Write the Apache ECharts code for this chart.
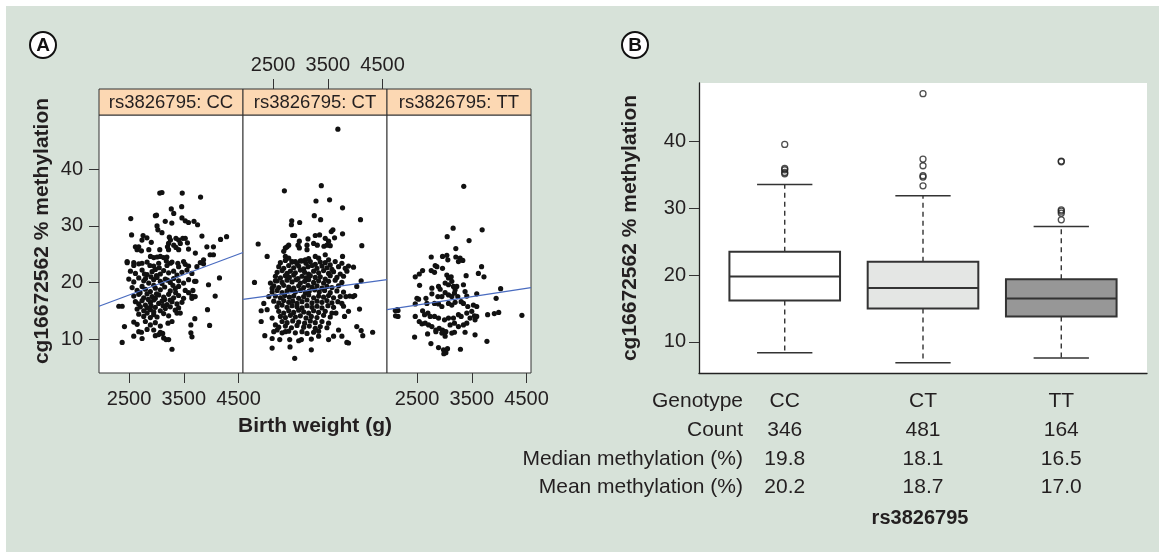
<!DOCTYPE html>
<html><head><meta charset="utf-8">
<script src="https://cdn.jsdelivr.net/npm/echarts@6/dist/echarts.min.js"></script>
<style>
html,body{margin:0;padding:0;background:#fff}
#wrap{position:relative;width:1159px;height:552px;background:#fff;overflow:hidden}
#bg{position:absolute;left:6px;top:6px;right:0;bottom:0;background:#d7e2d9}
#c{position:absolute;left:0;top:0;width:1159px;height:552px}
</style>
</head><body><div id="wrap"><div id="bg"></div><div id="c"></div></div>
<script>
// ---------------- DATA ----------------
const facetLabels = ['rs3826795: CC', 'rs3826795: CT', 'rs3826795: TT'];
const bwTicks = [2500, 3500, 4500];
const methTicks = [10, 20, 30, 40];

// Panel A: birth weight (g), methylation (%)
const ccPts = [
[3060,35.8],[3100,35.9],[3470,35.8],[3805,35.1],[3460,33.4],[3270,33.0],[3315,32.2],[2530,31.3],[2980,31.8],[3000,31.9],[3160,30.8],[3280,30.5],[3465,31.4],[3525,30.9],[3585,30.6],[3685,30.8],[3750,30.2],[3010,30.0],[3025,29.3],[3100,28.8],[2545,28.4],[2755,28.3],[2735,27.5],[2825,27.9],[2905,27.1],[3235,28.0],[3255,27.5],[3220,26.9],[3200,26.3],[3355,27.8],[3405,27.5],[3480,27.8],[3525,27.8],[3315,26.6],[3355,26.2],[3435,26.9],[3565,27.0],[3830,28.2],[3920,26.3],[4040,26.3],[4170,27.6],[4280,28.1],[2615,26.3],[2645,25.8],[2725,25.6],[2675,26.3],[2860,25.8],[3060,25.8],[3220,25.8],[3405,25.8],[3585,25.9],[3710,25.2],[2890,24.6],[2950,24.4],[3010,24.5],[3070,24.6],[3130,24.4],[3190,24.5],[2465,23.5],[2585,23.5],[2735,23.4],[3255,23.4],[3390,23.4],[3495,23.7],[3860,24.0],[3980,24.9],[4040,24.9],
[2464,23.7],[2585,23.0],[2676,23.3],[2828,23.6],[2949,22.9],[3040,23.4],[3192,23.0],[3283,23.6],[3404,22.8],[3525,23.2],[3586,22.9],[3738,22.8],[3859,23.3],
[2524,22.0],[2615,21.6],[2737,22.2],[2828,21.4],[2919,21.9],[2979,22.3],[3070,21.5],[3131,22.1],[3222,21.7],[3313,22.0],[3374,21.3],[3465,21.8],[3556,22.2],[3647,21.6],
[2494,20.6],[2585,20.1],[2676,20.8],[2767,20.3],[2858,19.9],[2949,20.5],[3010,20.9],[3070,20.2],[3161,20.6],[3252,20.0],[3313,20.7],[3404,20.3],[3495,19.9],[3586,20.5],[3695,20.2],
[2555,19.1],[2646,18.6],[2737,19.3],[2797,18.8],[2888,18.4],[2979,19.0],[3070,18.7],[3149,19.2],[3252,18.5],[3343,18.9],[3404,19.3],[3525,18.6],[3586,18.2],
[2585,17.6],[2676,17.9],[2767,17.3],[2828,18.0],[2919,17.5],[2979,17.2],[3040,17.8],[3131,17.4],[3222,17.9],[3313,17.3],[3404,17.7],[3495,17.2],[3647,17.6],
[2615,16.6],[2676,16.2],[2737,16.8],[2797,16.0],[2888,16.5],[2949,16.9],[3040,16.3],[3101,16.7],[3192,16.1],[3283,16.6],[3374,16.2],[3465,16.5],
[2312,15.8],[2373,15.8],[2646,15.3],[2706,15.7],[2767,15.0],[2828,15.5],[2888,15.2],[2979,15.6],[3070,15.0],[3161,15.4],[3252,15.7],[3343,15.1],[3404,15.5],
[2676,14.4],[2767,14.0],[2828,14.6],[2888,13.8],[2949,14.3],[3010,13.9],[3131,14.5],[3222,14.1],[3374,14.6],[3434,14.6],
[2415,12.2],[2585,13.0],[2646,12.6],[2797,13.1],[2888,12.5],[2979,12.9],[3070,12.3],[3210,12.8],[3283,13.1],
[2676,11.3],[2725,11.2],[2828,11.7],[2949,11.6],[3070,11.2],[3113,11.0],
[2585,10.5],[2737,10.1],[2979,10.6],[3040,10.8],[3131,10.2],[3174,9.9],[3222,9.9],[2373,9.4],[3283,8.2],
[2900,21.0],[2950,19.5],[3000,18.0],[3100,19.8],[3200,20.4],[3150,17.0],[2850,17.0],[2900,15.9],[3000,21.2],[3050,22.6],[2800,20.7],[2700,18.2],[3250,16.9],[3350,18.2],[2950,14.8],[3120,15.9],[2780,21.5],[3300,19.5],[2880,23.0],[3180,23.8],
[3950,19.6],[4150,20.8],[4072,17.6],[3932,15.2],[3970,12.4],[3700,13.6],[3628,12.5],[3628,11.1],[3648,10.4],[3800,23.5],[3647,17.2],[3707,17.5],[3665,18.6],[3720,20.2]
];
const ctPts = [
[3683,47.1],[3380,37.1],[2706,36.2],[3283,34.4],[3531,34.6],[3768,33.2],[3252,31.8],[3368,31.1],[2840,30.9],[2834,30.2],[2985,30.6],[3562,29.0],[3592,29.3],[3768,28.6],[2227,26.8],[2858,28.3],[2894,28.3],[2979,27.3],[3137,27.7],[3270,28.3],[3349,28.4],[3452,27.8],[3513,27.3],[3622,27.9],[2785,26.6],[2724,26.1],[2694,25.5],[2755,26.3],[2955,26.6],[2979,26.1],[3119,26.6],[3119,25.8],[3240,26.9],[3307,26.6],[3428,26.4],[3483,26.6],[3543,26.5],[2391,24.6],[3768,24.6],[2724,24.6],[2785,24.3],[2846,23.7],[2906,23.7],[2997,23.8],[3088,24.0],[3149,24.2],[3270,24.6],[3331,24.3],[3452,24.9],[3513,24.0],
[4096,31.1],[4120,26.5],[3877,22.9],[3968,22.7],[4108,20.3],[4028,19.3],[3900,17.6],[3960,17.5],[3990,17.7],[3877,14.9],[4078,15.3],[4028,12.2],[4108,11.5],[4137,10.6],[4318,11.2],[3877,9.3],
[2160,20.0],[2330,16.3],[2282,15.0],[2282,13.1],[2348,10.6],[2482,8.4],[2482,10.1],[2621,9.9],[2803,9.9],[2809,8.6],[2967,9.7],[3016,9.9],[2894,6.6],[3198,10.0],[3198,8.1],[3331,10.5],[3513,9.9],[3604,10.5],[3756,10.5],[3847,9.4],[3695,11.6],[3804,14.0],[3647,14.6],[3756,16.3],[3829,17.5],[2421,17.5],[2482,19.0],[2451,19.9],[2542,20.3],[2391,15.2],[2482,13.7],[2542,12.5],[2573,11.6],[2512,11.3],[2664,11.1],[2724,11.3],
[2633,23.5],[2724,23.9],[2846,23.6],[2937,23.3],[3028,23.8],[3101,23.4],[3179,23.7],[3270,23.2],[3361,23.6],[3452,23.5],[3543,23.1],[3634,23.7],[3756,23.4],
[2603,22.8],[2694,22.5],[2785,23.0],[2876,22.6],[2967,22.9],[3058,22.4],[3137,22.8],[3210,23.0],[3301,22.5],[3392,22.9],[3483,22.6],[3574,22.3],[3695,22.8],[3816,22.5],
[2573,21.8],[2664,22.1],[2755,21.6],[2815,22.0],[2906,21.7],[2997,22.2],[3076,21.8],[3149,21.5],[3240,22.0],[3331,21.7],[3422,22.1],[3513,21.6],[3604,21.9],[3726,21.5],[3847,22.0],
[2542,21.1],[2633,20.8],[2724,21.2],[2797,20.9],[2876,21.3],[2955,20.7],[3028,21.1],[3101,20.8],[3179,21.2],[3270,20.9],[3361,21.0],[3452,20.6],[3543,21.2],[3665,20.9],[3786,21.1],
[2573,20.3],[2664,20.0],[2755,20.4],[2846,20.1],[2919,20.5],[2997,19.9],[3076,20.2],[3149,20.5],[3240,20.0],[3331,20.3],[3422,19.9],[3513,20.2],[3634,20.4],[3756,20.0],
[2512,19.4],[2603,19.1],[2694,19.5],[2785,19.2],[2876,19.0],[2967,19.4],[3058,19.1],[3137,19.5],[3210,19.2],[3301,19.4],[3392,19.0],[3483,19.3],[3574,19.1],[3695,19.4],
[2482,18.3],[2573,18.6],[2664,18.2],[2755,18.5],[2834,18.7],[2906,18.3],[2997,18.6],[3088,18.2],[3161,18.5],[3258,18.7],[3343,18.3],[3440,18.6],[3543,18.2],[3665,18.5],[3786,18.3],
[2542,17.6],[2633,17.3],[2712,17.7],[2797,17.4],[2876,17.6],[2967,17.2],[3058,17.5],[3149,17.8],[3240,17.3],[3331,17.6],[3422,17.4],[3513,17.7],[3604,17.3],[3726,17.5],
[2512,16.7],[2603,16.4],[2694,16.8],[2785,16.5],[2858,16.7],[2937,16.3],[3028,16.6],[3119,16.9],[3210,16.4],[3301,16.7],[3392,16.5],[3483,16.8],[3574,16.4],[3683,16.6],
[2573,15.7],[2664,16.0],[2755,15.6],[2846,15.9],[2937,15.7],[3028,15.5],[3119,15.9],[3210,15.6],[3301,15.8],[3392,15.5],[3501,15.9],[3604,15.6],[3786,15.8],
[2603,14.9],[2694,14.6],[2785,15.0],[2876,14.7],[2967,15.1],[3058,14.8],[3149,14.6],[3240,15.0],[3331,14.7],[3452,14.9],[3574,14.6],
[2633,14.0],[2724,13.8],[2815,14.2],[2906,13.9],[2997,14.1],[3101,13.7],[3198,14.0],[3301,13.8],[3422,14.2],[3543,13.9],
[2664,13.1],[2755,12.9],[2858,13.2],[2967,13.0],[3076,12.8],[3179,13.2],[3270,12.9],[3392,13.1],[3513,12.8],
[2603,12.1],[2724,12.3],[2834,12.0],[2937,12.4],[3058,12.1],[3161,12.3],[3270,11.9],[3361,12.2],[3483,12.0],
[2785,11.4],[2906,11.1],[3028,11.3],[3119,11.0],[3240,11.2],[3331,11.4]
];
const ttPts = [
[3352,37.0],[3158,29.6],[3449,27.4],[3049,28.1],[3207,26.0],[2758,24.5],[2964,24.6],[3043,24.8],[3061,24.0],[3207,24.5],[3285,24.3],[3334,23.9],[3255,23.7],[2830,23.0],[3619,21.6],[2466,21.0],[2540,21.5],[2600,22.1],[2758,22.1],[2818,21.8],[2861,22.8],[2964,22.5],[3043,21.3],[3073,20.8],[3122,21.0],[3395,21.2],[2545,19.5],
[2770,19.0],[2891,19.3],[2921,18.8],[3012,19.9],[3073,19.6],[3134,20.2],[3164,19.3],[3194,18.7],[3225,19.3],
[2497,17.2],[2527,17.05],[2661,17.2],[2770,18.0],[2879,17.5],[2952,17.5],[3012,18.2],[3073,17.8],[3134,17.5],[3182,18.1],[3243,17.5],[3346,19.6],[3376,18.4],[3407,17.6],[3589,18.0],
[2466,16.2],[2151,15.05],[2102,15.05],[2679,16.3],[2818,16.3],[2891,16.2],[2952,15.75],[3073,16.3],[3134,16.0],[3194,16.5],[3304,16.6],[3346,16.3],[3425,15.75],[3528,16.0],[3589,15.75],
[2600,15.0],[2697,14.6],[2636,14.3],[2739,14.0],[2818,14.0],[2891,13.7],[3000,13.4],[3073,13.7],[3164,13.7],[3255,14.3],[3304,14.0],[3407,14.6],[3498,14.9],[3546,14.1],[2151,14.0],
[2466,14.0],[2539,13.1],[2588,12.7],[2648,12.8],[2709,12.5],[2770,12.2],[2843,11.6],[2903,11.9],[2964,11.6],[3025,11.3],[3103,12.5],[3182,12.8],[3255,12.2],[3346,12.5],[3407,12.8],[3467,13.7],[3558,13.4],[3589,14.0],
[2454,10.35],[2691,10.9],[2843,11.3],[2952,11.05],[3012,10.5],[3134,11.05],[3182,11.2],[3376,11.2],[3558,10.75],
[2752,9.2],[2891,8.5],[2982,8.1],[3025,7.6],[2988,7.4],[3055,8.3],[3291,8.2],
[3688,29.3],[3677,22.8],[3721,21.0],[4025,18.9],[3943,17.2],[3990,14.7],[3910,14.5],[3788,14.3],[4414,14.2],[3775,9.6],[2139,15.2],[2106,14.1]
];
// fitted lines: [birth weight, methylation] at the panel edges
const trendCC = [[1950, 15.8], [4580, 25.3]];
const trendCT = [[1950, 17.0], [4580, 20.5]];
const trendTT = [[1950, 15.2], [4580, 19.1]];

// Panel B: box plot statistics
const genotypes = ['CC', 'CT', 'TT'];
const boxLow    = [8.4, 6.9, 7.6];
const boxQ1     = [16.2, 15.0, 13.8];
const boxMedian = [19.8, 18.1, 16.5];
const boxQ3     = [23.5, 22.0, 19.4];
const boxHigh   = [33.6, 31.9, 27.3];
const outCC = [39.6, 36.0, 35.8, 35.4, 35.2];
const outCT = [47.2, 37.4, 36.4, 34.9, 34.7, 33.4];
const outTT = [37.1, 37.0, 29.8, 29.6, 29.3, 28.3];

// Table
const tableRowLabels = ['Genotype', 'Count', 'Median methylation (%)', 'Mean methylation (%)'];
const counts  = ['346', '481', '164'];
const medians = ['19.8', '18.1', '16.5'];
const means   = ['20.2', '18.7', '17.0'];
const groupName = 'rs3826795';
const yTitle = 'cg16672562 % methylation';
const xTitle = 'Birth weight (g)';

// ---------------- CHART ----------------
const FONT = "'Liberation Sans', Arial, Helvetica, sans-serif";
const TXT = '#231f20';
const LINE = '#333333';
const bwMin = 1950, bwMax = 4580;
const yMinA = 4.0, yMaxA = 49.6;
const yMinB = 5.35, yMaxB = 48.8;
const bxMin = 0.38, bxMax = 3.62;

const facetLefts = [99, 243, 387];
const facetW = 144, facetTop = 115, facetH = 258, stripH = 26;
const gridB = {left: 699, top: 83, width: 448, height: 290};

const chart = echarts.init(document.getElementById('c'));

const grids = facetLefts.map(l => ({left: l, top: facetTop, width: facetW, height: facetH,
  show: true, backgroundColor: '#fff', borderColor: LINE, borderWidth: 1}));
grids.push(Object.assign({show: true, backgroundColor: '#fff', borderWidth: 0}, gridB));

const plain = v => String(v);
const tickLbl = {fontSize: 20, color: TXT, fontFamily: FONT, formatter: plain};

function facetXAxis(i, position, offset, shown) {
  return {
    gridIndex: i, type: 'value', min: bwMin, max: bwMax, position: position, offset: offset,
    axisLine: {show: false, onZero: false}, splitLine: {show: false},
    axisTick: {show: shown, length: 10, inside: false, customValues: bwTicks, lineStyle: {color: LINE, width: 1}},
    axisLabel: Object.assign({show: shown, margin: position === 'top' ? 14 : 16, customValues: bwTicks}, tickLbl)
  };
}
const xAxes = [
  facetXAxis(0, 'bottom', 0, true),
  facetXAxis(1, 'top', stripH, true),
  facetXAxis(2, 'bottom', 0, true),
  {gridIndex: 3, type: 'value', min: bxMin, max: bxMax,
   axisLine: {show: true, onZero: false, lineStyle: {color: '#222', width: 1.3}},
   axisTick: {show: false}, axisLabel: {show: false}, splitLine: {show: false}}
];
const yAxes = [
  {gridIndex: 0, type: 'value', min: yMinA, max: yMaxA,
   axisLine: {show: false, onZero: false}, splitLine: {show: false},
   axisTick: {show: true, length: 10, customValues: methTicks, lineStyle: {color: LINE}},
   axisLabel: Object.assign({margin: 16, customValues: methTicks}, tickLbl)},
  {gridIndex: 1, type: 'value', min: yMinA, max: yMaxA, show: false},
  {gridIndex: 2, type: 'value', min: yMinA, max: yMaxA, show: false},
  {gridIndex: 3, type: 'value', min: yMinB, max: yMaxB,
   axisLine: {show: true, onZero: false, lineStyle: {color: '#222', width: 1.3}}, splitLine: {show: false},
   axisTick: {show: true, length: 10, customValues: methTicks, lineStyle: {color: LINE}},
   axisLabel: Object.assign({margin: 13, customValues: methTicks}, tickLbl)}
];

const series = [];
[ccPts, ctPts, ttPts].forEach((pts, i) => {
  series.push({type: 'scatter', xAxisIndex: i, yAxisIndex: i, data: pts, symbol: 'circle', symbolSize: 5.2,
    itemStyle: {color: '#111111', opacity: 1}, silent: true, z: 2});
});
[trendCC, trendCT, trendTT].forEach((tr, i) => {
  series.push({type: 'line', xAxisIndex: i, yAxisIndex: i, data: tr, showSymbol: false, clip: true,
    lineStyle: {color: '#4a6cc0', width: 1.3}, silent: true, z: 3});
});

const boxFills = ['#ffffff', '#e4e6e4', '#979797'];
const boxData = genotypes.map((g, i) => [i + 1, boxLow[i], boxQ1[i], boxMedian[i], boxQ3[i], boxHigh[i]]);
series.push({
  type: 'custom', xAxisIndex: 3, yAxisIndex: 3, data: boxData, silent: true,
  encode: {x: 0, y: [1, 2, 3, 4, 5]},
  renderItem: function (params, api) {
    const x = api.value(0);
    const pLo = api.coord([x, api.value(1)]);
    const pQ1 = api.coord([x, api.value(2)]);
    const pMed = api.coord([x, api.value(3)]);
    const pQ3 = api.coord([x, api.value(4)]);
    const pHi = api.coord([x, api.value(5)]);
    const bw = api.size([0.8, 0])[0];
    const cw = bw / 2;
    const cx = pMed[0];
    const st = '#333333';
    return {type: 'group', children: [
      {type: 'line', shape: {x1: cx, y1: pQ3[1], x2: cx, y2: pHi[1]}, style: {stroke: st, lineWidth: 1.4, lineDash: [5, 4]}},
      {type: 'line', shape: {x1: cx, y1: pQ1[1], x2: cx, y2: pLo[1]}, style: {stroke: st, lineWidth: 1.4, lineDash: [5, 4]}},
      {type: 'line', shape: {x1: cx - cw / 2, y1: pHi[1], x2: cx + cw / 2, y2: pHi[1]}, style: {stroke: st, lineWidth: 1.5}},
      {type: 'line', shape: {x1: cx - cw / 2, y1: pLo[1], x2: cx + cw / 2, y2: pLo[1]}, style: {stroke: st, lineWidth: 1.5}},
      {type: 'rect', shape: {x: cx - bw / 2, y: pQ3[1], width: bw, height: pQ1[1] - pQ3[1]},
       style: {fill: boxFills[params.dataIndex], stroke: st, lineWidth: 2}},
      {type: 'line', shape: {x1: cx - bw / 2, y1: pMed[1], x2: cx + bw / 2, y2: pMed[1]}, style: {stroke: st, lineWidth: 2}}
    ]};
  }
});
const outData = [];
[outCC, outCT, outTT].forEach((arr, i) => arr.forEach(v => outData.push([i + 1, v])));
series.push({type: 'scatter', xAxisIndex: 3, yAxisIndex: 3, data: outData, symbol: 'circle', symbolSize: 6,
  itemStyle: {color: 'rgba(255,255,255,0)', borderColor: '#222', borderWidth: 1.3}, silent: true, z: 4});

chart.setOption({
  animation: false,
  grid: grids, xAxis: xAxes, yAxis: yAxes, series: series
});

// ---------------- ANNOTATIONS ----------------
const colX = genotypes.map((g, i) => chart.convertToPixel({xAxisIndex: 3}, i + 1));
const els = [];
function txt(t, x, y, size, opts) {
  return Object.assign({type: 'text', x: x, y: y, silent: true, z: 10,
    style: Object.assign({text: t, x: 0, y: 0, fill: TXT, fontSize: size, fontFamily: FONT,
      align: 'center', verticalAlign: 'middle'}, (opts && opts.style) || {})}, (opts && opts.el) || {});
}
// strips
facetLefts.forEach((l, i) => {
  els.push({type: 'rect', shape: {x: l, y: facetTop - stripH, width: facetW, height: stripH},
    style: {fill: '#fcd8b3', stroke: LINE, lineWidth: 1}, z: 5, silent: true});
  els.push(txt(facetLabels[i], l + facetW / 2, facetTop - stripH / 2 + 0.5, 18.5));
});
// circled letters
[[43, 45, 'A'], [635, 45, 'B']].forEach(p => {
  els.push({type: 'circle', shape: {cx: p[0], cy: p[1], r: 13}, style: {fill: '#fff', stroke: '#111', lineWidth: 2}, z: 5, silent: true});
  els.push(txt(p[2], p[0], p[1] + 1, 19, {style: {fontWeight: 'bold', fill: '#111'}}));
});
// axis titles
els.push(txt(yTitle, 42, 231, 21, {style: {fontWeight: 'bold'}, el: {rotation: Math.PI / 2}}));
els.push(txt(yTitle, 630, 228, 21, {style: {fontWeight: 'bold'}, el: {rotation: Math.PI / 2}}));
els.push(txt(xTitle, 315, 426, 21, {style: {fontWeight: 'bold'}}));
// table
const rowY = [401.7, 430, 459, 487.3];
const rows = [genotypes, counts, medians, means];
tableRowLabels.forEach((lab, r) => {
  els.push(txt(lab, 743, rowY[r], 21, {style: {align: 'right'}}));
  rows[r].forEach((v, c) => els.push(txt(v, colX[c], rowY[r], 21)));
});
els.push(txt(groupName, colX[1] - 3, 518, 20, {style: {fontWeight: 'bold'}}));

chart.setOption({graphic: {elements: els}});
</script></body></html>
